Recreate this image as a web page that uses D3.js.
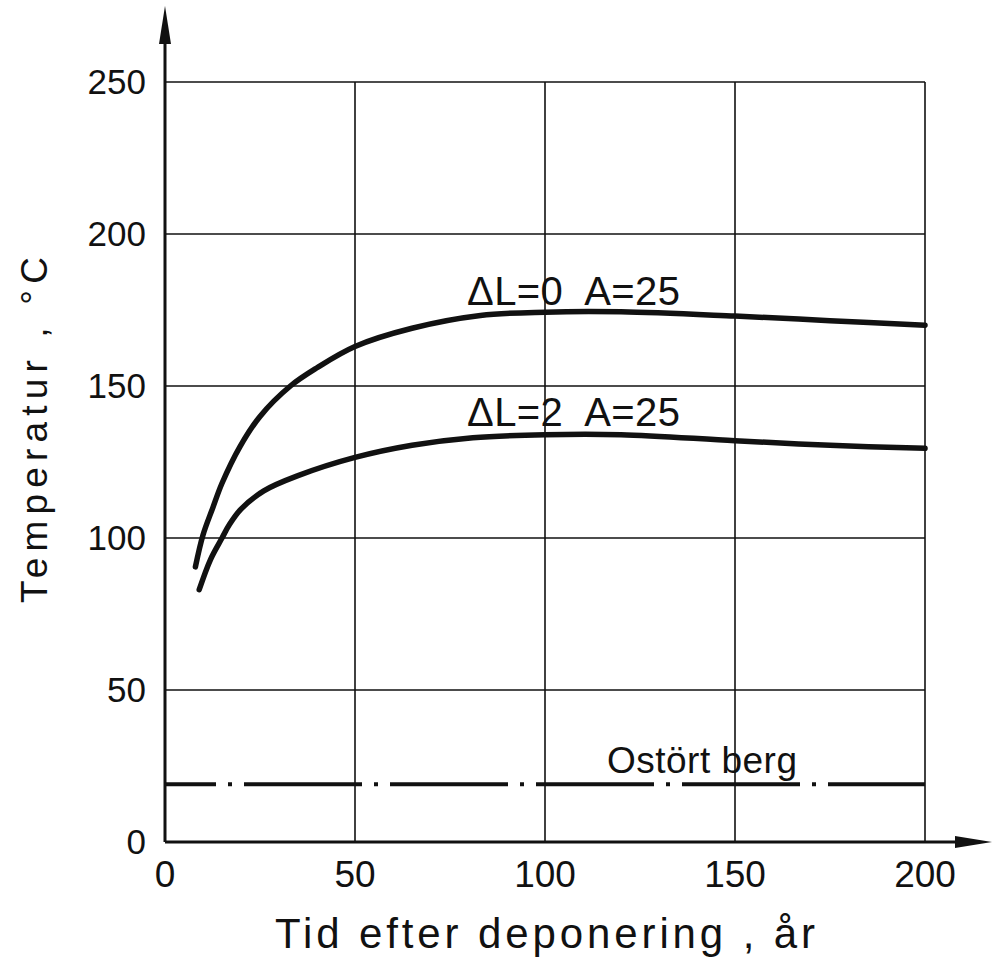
<!DOCTYPE html>
<html>
<head>
<meta charset="utf-8">
<script src="https://cdn.jsdelivr.net/npm/d3@7"></script>
<style>
  html, body { margin: 0; padding: 0; background: #fff; }
  svg { display: block; }
  text { font-family: "Liberation Sans", Arial, sans-serif; fill: #111; white-space: pre; }
</style>
</head>
<body>
<svg id="chart" width="992" height="962"></svg>
<script>
// Temperature after deposition (years) for two spacing cases
const xTicks = [0, 50, 100, 150, 200];
const yTicks = [0, 50, 100, 150, 200, 250];

const seriesDL0 = [
  [8, 90.5], [10, 101], [12.6, 110], [15, 118], [19.7, 130], [25, 140],
  [33, 150], [40, 156], [50, 163], [65, 169], [83, 173.2], [100, 174.3],
  [120, 174.4], [150, 173], [175, 171.5], [200, 170]
];
const seriesDL2 = [
  [9, 83], [12, 93], [15, 100], [17, 104.5], [20, 109.5], [26, 115.5],
  [35, 120.5], [50, 126.5], [65, 130.5], [81, 133], [100, 134], [120, 134],
  [150, 132], [175, 130.5], [200, 129.5]
];
const labelDL0 = "ΔL=0  A=25";
const labelDL2 = "ΔL=2  A=25";
const rockTemp = 19;
const rockLabel = "Ostört berg";
const xTitle = "Tid efter deponering , år";
const yTitle = "Temperatur , °C";

const svg = d3.select("#chart");
const x = d3.scaleLinear().domain([0, 200]).range([165, 925]);
const y = d3.scaleLinear().domain([0, 250]).range([842, 82]);

const ink = "#111";

// grid
const grid = svg.append("g").attr("stroke", ink).attr("stroke-width", 1.6);
grid.selectAll("line.v").data(xTicks.slice(1)).join("line")
  .attr("x1", d => x(d)).attr("x2", d => x(d))
  .attr("y1", y(0)).attr("y2", y(250));
grid.selectAll("line.h").data(yTicks.slice(1)).join("line")
  .attr("x1", x(0)).attr("x2", x(200))
  .attr("y1", d => y(d)).attr("y2", d => y(d));

// axes with arrows
const axes = svg.append("g").attr("stroke", ink).attr("stroke-width", 3);
axes.append("line").attr("x1", x(0)).attr("x2", 962).attr("y1", y(0)).attr("y2", y(0));
axes.append("line").attr("x1", x(0)).attr("x2", x(0)).attr("y1", y(0)).attr("y2", 40);
svg.append("path").attr("fill", ink)
  .attr("d", `M${x(0)},6 L${x(0) - 6},44 L${x(0) + 6},44 Z`);
svg.append("path").attr("fill", ink)
  .attr("d", `M992,${y(0)} L955,${y(0) - 6} L955,${y(0) + 6} Z`);

// tick labels
svg.append("g").selectAll("text").data(xTicks).join("text")
  .attr("x", d => x(d)).attr("y", 887)
  .attr("text-anchor", "middle").attr("font-size", 37)
  .text(d => d);
svg.append("g").selectAll("text").data(yTicks).join("text")
  .attr("x", 146).attr("y", d => y(d) + 12)
  .attr("text-anchor", "end").attr("font-size", 35)
  .text(d => d);

// axis titles
svg.append("text").attr("x", 275).attr("y", 948)
  .attr("font-size", 42)
  .attr("textLength", 540).attr("lengthAdjust", "spacing")
  .text(xTitle);
svg.append("text")
  .attr("transform", "translate(47,603) rotate(-90)")
  .attr("font-size", 37)
  .attr("textLength", 346).attr("lengthAdjust", "spacing")
  .text(yTitle);

// undisturbed rock temperature
svg.append("line")
  .attr("x1", x(0)).attr("x2", x(200))
  .attr("y1", y(rockTemp)).attr("y2", y(rockTemp))
  .attr("stroke", ink).attr("stroke-width", 4)
  .attr("stroke-dasharray", "118 12 4 12")
  .attr("stroke-dashoffset", 67);
svg.append("text").attr("x", 607).attr("y", 773)
  .attr("font-size", 37)
  .attr("textLength", 190).attr("lengthAdjust", "spacing")
  .text(rockLabel);

// temperature curves
const line = d3.line().x(d => x(d[0])).y(d => y(d[1])).curve(d3.curveCatmullRom.alpha(0.5));
svg.append("g").attr("fill", "none").attr("stroke", ink)
  .attr("stroke-width", 5.5).attr("stroke-linecap", "round")
  .selectAll("path").data([seriesDL0, seriesDL2]).join("path")
  .attr("d", line);

svg.append("text").attr("x", 467).attr("y", 305)
  .attr("font-size", 40)
  .attr("textLength", 213).attr("lengthAdjust", "spacing")
  .text(labelDL0);
svg.append("text").attr("x", 467).attr("y", 426)
  .attr("font-size", 40)
  .attr("textLength", 213).attr("lengthAdjust", "spacing")
  .text(labelDL2);
</script>
</body>
</html>
